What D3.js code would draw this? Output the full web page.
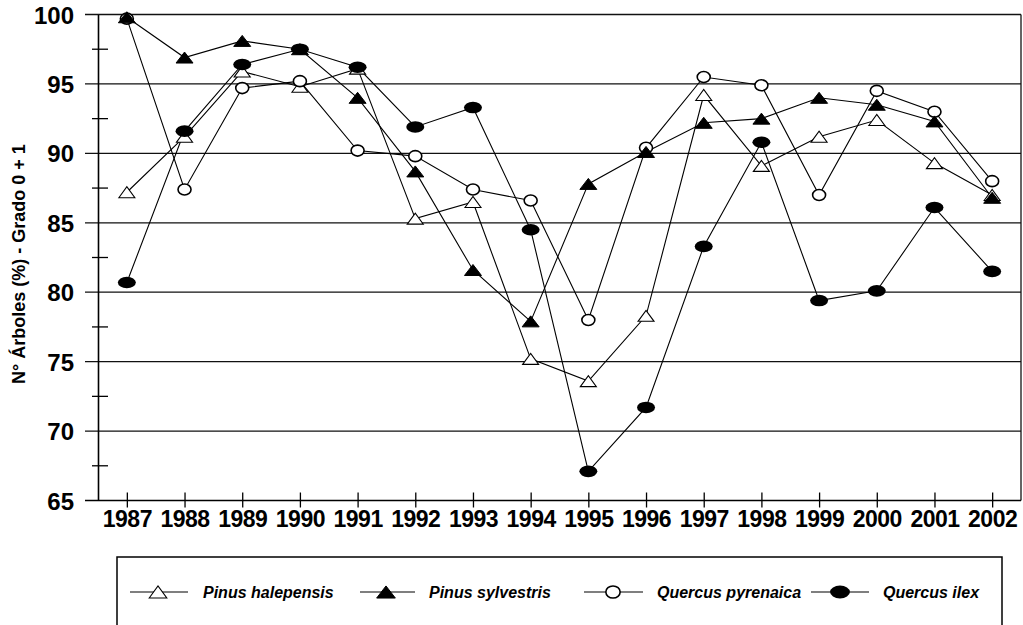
<!DOCTYPE html>
<html>
<head>
<meta charset="utf-8">
<script src="https://cdn.jsdelivr.net/npm/d3@7/dist/d3.min.js"></script>
<style>
  html, body { margin: 0; padding: 0; background: #fff; }
  svg { display: block; }
</style>
</head>
<body>
<svg id="chart" width="1023" height="625"></svg>
<script>
const years = ["1987","1988","1989","1990","1991","1992","1993","1994","1995","1996","1997","1998","1999","2000","2001","2002"];
const pinusHalepensis = [87.2, 91.2, 95.9, 94.8, 96.1, 85.3, 86.5, 75.2, 73.6, 78.3, 94.2, 89.1, 91.2, 92.4, 89.3, 87.0];
const pinusSylvestris = [99.8, 96.9, 98.1, 97.5, 94.0, 88.7, 81.6, 77.9, 87.8, 90.1, 92.2, 92.5, 94.0, 93.5, 92.3, 86.8];
const quercusPyrenaica = [99.7, 87.4, 94.7, 95.2, 90.2, 89.8, 87.4, 86.6, 78.0, 90.4, 95.5, 94.9, 87.0, 94.5, 93.0, 88.0];
const quercusIlex = [80.7, 91.6, 96.4, 97.5, 96.2, 91.9, 93.3, 84.5, 67.1, 71.7, 83.3, 90.8, 79.4, 80.1, 86.1, 81.5];
const yTicks = [65, 70, 75, 80, 85, 90, 95, 100];
const yMinorTicks = [67.5, 72.5, 77.5, 82.5, 87.5, 92.5, 97.5];
const seriesNames = ["Pinus halepensis", "Pinus sylvestris", "Quercus pyrenaica", "Quercus ilex"];
const yTitle = "N° Árboles (%) - Grado 0 + 1";

const series = [
  { name: seriesNames[0], values: pinusHalepensis, marker: "triOpen" },
  { name: seriesNames[1], values: pinusSylvestris, marker: "triFill" },
  { name: seriesNames[2], values: quercusPyrenaica, marker: "circOpen" },
  { name: seriesNames[3], values: quercusIlex, marker: "circFill" }
];
const markerOrder = [0, 2, 1, 3];

const svg = d3.select("#chart");
const pLeft = 98, pRight = 1021, pTop = 14.5, pBottom = 500.5;
const x = d3.scalePoint().domain(years).range([pLeft, pRight]).padding(0.5);
const y = d3.scaleLinear().domain([65, 100]).range([pBottom, pTop]);
const FONT = "Arial, 'Liberation Sans', Helvetica, sans-serif";

// gridlines
svg.append("g").selectAll("line").data(yTicks.filter(d => d > 65)).join("line")
  .attr("x1", 85).attr("x2", pRight)
  .attr("y1", d => y(d)).attr("y2", d => y(d))
  .attr("stroke", "#111").attr("stroke-width", 1.3);

// right border
svg.append("line").attr("x1", pRight).attr("x2", pRight).attr("y1", y(100)).attr("y2", y(65))
  .attr("stroke", "#111").attr("stroke-width", 1.3);

// y axis
const yAxis = svg.append("g").attr("transform", `translate(${pLeft},0)`)
  .call(d3.axisLeft(y).tickValues(yTicks).tickSize(0).tickPadding(24).tickFormat(d3.format("d")));
yAxis.select(".domain").attr("stroke", "#000").attr("stroke-width", 1.6);
yAxis.selectAll("text").attr("font-family", FONT).attr("font-weight", "bold")
  .attr("font-size", 24).attr("fill", "#000").attr("dy", "0.36em");

// y minor ticks
svg.append("g").selectAll("line").data(yMinorTicks).join("line")
  .attr("x1", pLeft - 6).attr("x2", pLeft + 10)
  .attr("y1", d => y(d)).attr("y2", d => y(d))
  .attr("stroke", "#000").attr("stroke-width", 1.3);

// x axis
const xAxis = svg.append("g").attr("transform", `translate(0,${pBottom})`)
  .call(d3.axisBottom(x).tickSize(7).tickPadding(0));
xAxis.select(".domain").attr("d", `M85,0H${pRight}`).attr("stroke", "#000").attr("stroke-width", 1.6);
xAxis.selectAll(".tick line").attr("y1", -8).attr("y2", 7).attr("stroke", "#000").attr("stroke-width", 1.3);
xAxis.selectAll(".tick text").attr("font-family", FONT).attr("font-weight", "bold")
  .attr("font-size", 23).attr("fill", "#000").attr("y", 26).attr("dy", 0)
  .attr("letter-spacing", "-0.5");

// lines
const line = d3.line().x((d, i) => x(years[i])).y(d => y(d));
svg.append("g").selectAll("path").data(series).join("path")
  .attr("d", d => line(d.values))
  .attr("fill", "none").attr("stroke", "#000").attr("stroke-width", 1.1);

function drawMarker(g, type, cx, cy, scale) {
  const s = scale || 1;
  if (type === "triOpen") {
    const w = 8 * s, h = 11 * s;
    g.append("path").attr("d", `M${cx - w},${cy + h / 2}L${cx},${cy - h / 2}L${cx + w},${cy + h / 2}Z`)
      .attr("fill", "#fff").attr("stroke", "#000").attr("stroke-width", 1.1);
  } else if (type === "triFill") {
    const w = 8.5 * s, h = 11 * s;
    g.append("path").attr("d", `M${cx - w},${cy + h / 2}L${cx},${cy - h / 2}L${cx + w},${cy + h / 2}Z`)
      .attr("fill", "#000").attr("stroke", "#000").attr("stroke-width", 1);
  } else if (type === "circOpen") {
    g.append("ellipse").attr("cx", cx).attr("cy", cy).attr("rx", 6.5 * s).attr("ry", 5.5 * s)
      .attr("fill", "#fff").attr("stroke", "#000").attr("stroke-width", 1.6);
  } else {
    g.append("ellipse").attr("cx", cx).attr("cy", cy).attr("rx", 9 * s).attr("ry", 5.8 * s)
      .attr("fill", "#000");
  }
}

// markers
markerOrder.forEach(k => {
  const s = series[k];
  const g = svg.append("g");
  s.values.forEach((v, i) => drawMarker(g, s.marker, x(years[i]), y(v), 1));
});

// y title
svg.append("text").attr("transform", "translate(25,264) rotate(-90)")
  .attr("text-anchor", "middle").attr("font-family", FONT).attr("font-weight", "bold")
  .attr("font-size", 18).attr("fill", "#000").text(yTitle);

// legend
svg.append("rect").attr("x", 117).attr("y", 557).attr("width", 885).attr("height", 80)
  .attr("fill", "none").attr("stroke", "#000").attr("stroke-width", 1.5);
const legendItems = [
  { s: series[0], x1: 130, x2: 188, cx: 158, tx: 203 },
  { s: series[1], x1: 360, x2: 415, cx: 386, tx: 429 },
  { s: series[2], x1: 584, x2: 643, cx: 613, tx: 657 },
  { s: series[3], x1: 811, x2: 869, cx: 840, tx: 883 }
];
const lg = svg.append("g");
const ly = 592;
legendItems.forEach(it => {
  lg.append("line").attr("x1", it.x1).attr("x2", it.x2).attr("y1", ly).attr("y2", ly)
    .attr("stroke", "#000").attr("stroke-width", 1.2);
  drawMarker(lg, it.s.marker, it.cx, ly, 1.1);
  lg.append("text").attr("x", it.tx).attr("y", ly + 6)
    .attr("font-family", FONT).attr("font-weight", "bold").attr("font-style", "italic")
    .attr("font-size", 16).attr("fill", "#000").text(it.s.name);
});
</script>
</body>
</html>
